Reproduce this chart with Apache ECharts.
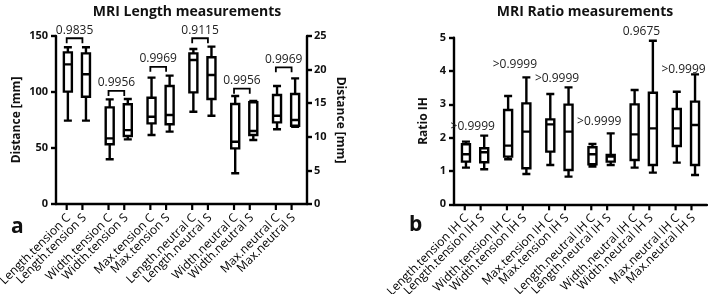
<!DOCTYPE html>
<html><head><meta charset="utf-8">
<script src="https://cdn.jsdelivr.net/npm/echarts@6/dist/echarts.min.js"></script>
<style>html,body{margin:0;padding:0;background:#fff}#c{width:708px;height:294px}</style>
</head><body><div id="c"></div>
<script>
// ---- data ----
const groupsA = ['Length.tension', 'Width.tension', 'Max.tension', 'Length.neutral', 'Width.neutral', 'Max.neutral'];
const labelsA = ['Length.tension C', 'Length.tension S', 'Width.tension C', 'Width.tension S', 'Max.tension C', 'Max.tension S',
  'Length.neutral C', 'Length.neutral S', 'Width.neutral C', 'Width.neutral S', 'Max.neutral C', 'Max.neutral S'];
// [min, q1, median, q3, max]
const lengthC = [[74.4, 100.3, 124.7, 135.4, 140], [39.9, 53.3, 58.6, 86.3, 93.4], [61.6, 72, 77.9, 94.9, 112.8],
  [82.4, 99.7, 128.6, 134.5, 138.4], [27.4, 49.7, 55.6, 89.3, 96.4], [66.7, 72.9, 78.8, 97.3, 105.4]];
const lengthS = [[74.4, 95.8, 115.8, 134.5, 140], [57.7, 60.7, 66, 89, 93.7], [64.6, 71.2, 79.5, 105.4, 114.6],
  [78.8, 93.8, 115.2, 131, 140.5], [57.1, 61.6, 65.2, 90.8, 92], [69, 69.9, 75, 98.2, 112.2]];
const pA = ['0.9835', '0.9956', '0.9969', '0.9115', '0.9956', '0.9969'];
const bracketA = [148, 101, 122.5, 148, 103, 122];
const ticksA = [0, 50, 100, 150];
const ticksA2 = [0, 5, 10, 15, 20, 25];

const groupsB = ['Length.tension IH', 'Width.tension IH', 'Max.tension IH', 'Length.neutral IH', 'Width.neutral IH', 'Max.neutral IH'];
const labelsB = ['Length.tension IH C', 'Length.tension IH S', 'Width.tension IH C', 'Width.tension IH S', 'Max.tension IH C', 'Max.tension IH S',
  'Length.neutral IH C', 'Length.neutral IH S', 'Width.neutral IH C', 'Width.neutral IH S', 'Max.neutral IH C', 'Max.neutral IH S'];
const ratioC = [[1.10, 1.28, 1.50, 1.80, 1.88], [1.35, 1.43, 1.76, 2.83, 3.25], [1.18, 1.58, 2.40, 2.55, 3.31],
  [1.13, 1.20, 1.50, 1.71, 1.81], [1.10, 1.33, 2.10, 3.00, 3.43], [1.25, 1.75, 2.28, 2.86, 3.38]];
const ratioS = [[1.05, 1.26, 1.56, 1.68, 2.06], [0.91, 1.08, 2.18, 3.03, 3.81], [0.83, 1.03, 2.18, 2.99, 3.51],
  [1.18, 1.28, 1.43, 1.48, 2.13], [0.95, 1.18, 2.28, 3.35, 4.91], [0.88, 1.18, 2.38, 3.08, 3.90]];
const pB = ['>0.9999', '>0.9999', '>0.9999', '>0.9999', '0.9675', '>0.9999'];
const pBy = [2.33, 4.18, 3.76, 2.48, 5.18, 4.03];
const ticksB = [0, 1, 2, 3, 4, 5];

// ---- helpers ----
const FONT = '"Open Sans", "Noto Sans", sans-serif';
// offsets of the two boxes inside a category band (same rule as the boxplot layout)
function offs(bw) { const A = bw * 0.8 - 2; return [-0.325 * A, 0.175 * A]; }

function tickLabelSeries(xi, yi, labels) {
  const data = labels.map((l, i) => [Math.floor(i / 2), 0, i % 2]);
  return {
    type: 'custom', xAxisIndex: xi, yAxisIndex: yi, silent: true, clip: false, z: 5,
    data: data,
    renderItem: function (params, api) {
      const g = api.value(0), side = api.value(2);
      const p = api.coord([g, 0]);
      const bw = api.size([1, 0])[0];
      const x = p[0] + offs(bw)[side];
      const y0 = p[1];
      return {
        type: 'group', children: [
          { type: 'line', shape: { x1: x, y1: y0, x2: x, y2: y0 + 6 }, style: { stroke: '#000', lineWidth: 2.2 } },
          { type: 'text', x: x + 2, y: y0 + 12, rotation: Math.PI / 4,
            style: { text: labels[params.dataIndex], align: 'right', verticalAlign: 'middle', fontSize: 12, fontFamily: FONT, fill: '#000' } }
        ]
      };
    }
  };
}

function pSeries(xi, yi, texts, ys, bracket) {
  return {
    type: 'custom', xAxisIndex: xi, yAxisIndex: yi, silent: true, clip: false, z: 5,
    data: ys.map((v, i) => [i, v]),
    renderItem: function (params, api) {
      const g = api.value(0);
      const p = api.coord([g, api.value(1)]);
      const bw = api.size([1, 0])[0];
      const o = offs(bw);
      const xc = p[0] + o[0], xs = p[0] + o[1];
      const children = [];
      if (bracket) {
        children.push({ type: 'polyline', shape: { points: [[xc, p[1] + 5], [xc, p[1]], [xs, p[1]], [xs, p[1] + 5]] },
          style: { stroke: '#000', lineWidth: 1.8, fill: null } });
        children.push({ type: 'text', x: (xc + xs) / 2, y: p[1] - 8,
          style: { text: texts[params.dataIndex], align: 'center', verticalAlign: 'middle', fontSize: 12, fontFamily: FONT, fill: '#222' } });
      } else {
        children.push({ type: 'text', x: (xc + xs) / 2, y: p[1],
          style: { text: texts[params.dataIndex], align: 'center', verticalAlign: 'middle', fontSize: 12, fontFamily: FONT, fill: '#222' } });
      }
      return { type: 'group', children: children };
    }
  };
}

function boxSeries(xi, yi, data, name) {
  return {
    type: 'boxplot', name: name, xAxisIndex: xi, yAxisIndex: yi, data: data, boxWidth: [8, 8], silent: true,
    itemStyle: { color: 'rgba(0,0,0,0)', borderColor: '#000', borderWidth: 2.4 },
    emphasis: { disabled: true }
  };
}

const axisLine = { show: true, lineStyle: { color: '#000', width: 2.4 } };
const yLabel = { color: '#111', fontWeight: 'bold', fontSize: 11, fontFamily: FONT, margin: 8 };
const nameStyle = { color: '#111', fontWeight: 'bold', fontSize: 12, fontFamily: FONT };

const chart = echarts.init(document.getElementById('c'), null, { renderer: 'canvas' });
chart.setOption({
  animation: false,
  backgroundColor: '#fff',
  title: [
    { text: 'MRI Length measurements', left: 182, top: 0, textAlign: 'center', textStyle: { fontSize: 14, fontWeight: 'bold', fontFamily: FONT, color: '#111' } },
    { text: 'MRI Ratio measurements', left: 580, top: 0, textAlign: 'center', textStyle: { fontSize: 14, fontWeight: 'bold', fontFamily: FONT, color: '#111' } },
    { text: 'a', left: 6, top: 212, textStyle: { fontSize: 21, fontWeight: 'bold', fontFamily: FONT, color: '#111' } },
    { text: 'b', left: 404, top: 210, textStyle: { fontSize: 21, fontWeight: 'bold', fontFamily: FONT, color: '#111' } }
  ],
  grid: [
    { left: 56, top: 36, width: 251, height: 168 },
    { left: 454, top: 37.7, width: 253, height: 166.6 }
  ],
  xAxis: [
    { type: 'category', gridIndex: 0, data: groupsA, axisLine: axisLine, axisTick: { show: false }, axisLabel: { show: false }, splitLine: { show: false } },
    { type: 'category', gridIndex: 1, data: groupsB, axisLine: axisLine, axisTick: { show: false }, axisLabel: { show: false }, splitLine: { show: false } }
  ],
  yAxis: [
    { type: 'value', gridIndex: 0, min: ticksA[0], max: ticksA[ticksA.length - 1], interval: ticksA[1] - ticksA[0],
      name: 'Distance [mm]', nameLocation: 'middle', nameGap: 33, nameTextStyle: nameStyle,
      axisLine: axisLine, axisTick: { show: true, length: 5, lineStyle: { width: 2.4, color: '#000' } }, axisLabel: yLabel, splitLine: { show: false } },
    { type: 'value', gridIndex: 0, position: 'right', min: ticksA2[0], max: ticksA2[ticksA2.length - 1], interval: ticksA2[1] - ticksA2[0],
      name: 'Distance [mm]', nameLocation: 'middle', nameRotate: -90, nameGap: 27, nameTextStyle: nameStyle,
      axisLine: axisLine, axisTick: { show: true, length: 5, lineStyle: { width: 2.4, color: '#000' } }, axisLabel: Object.assign({}, yLabel, { margin: 7 }), splitLine: { show: false } },
    { type: 'value', gridIndex: 1, min: ticksB[0], max: ticksB[ticksB.length - 1], interval: ticksB[1] - ticksB[0],
      name: 'Ratio IH', nameLocation: 'middle', nameGap: 24, nameTextStyle: nameStyle,
      axisLine: axisLine, axisTick: { show: true, length: 5, lineStyle: { width: 2.4, color: '#000' } }, axisLabel: yLabel, splitLine: { show: false } }
  ],
  series: [
    boxSeries(0, 0, lengthC, 'C'),
    boxSeries(0, 0, lengthS, 'S'),
    tickLabelSeries(0, 0, labelsA),
    pSeries(0, 0, pA, bracketA, true),
    boxSeries(1, 2, ratioC, 'C'),
    boxSeries(1, 2, ratioS, 'S'),
    tickLabelSeries(1, 2, labelsB),
    pSeries(1, 2, pB, pBy, false)
  ]
});
</script></body></html>
